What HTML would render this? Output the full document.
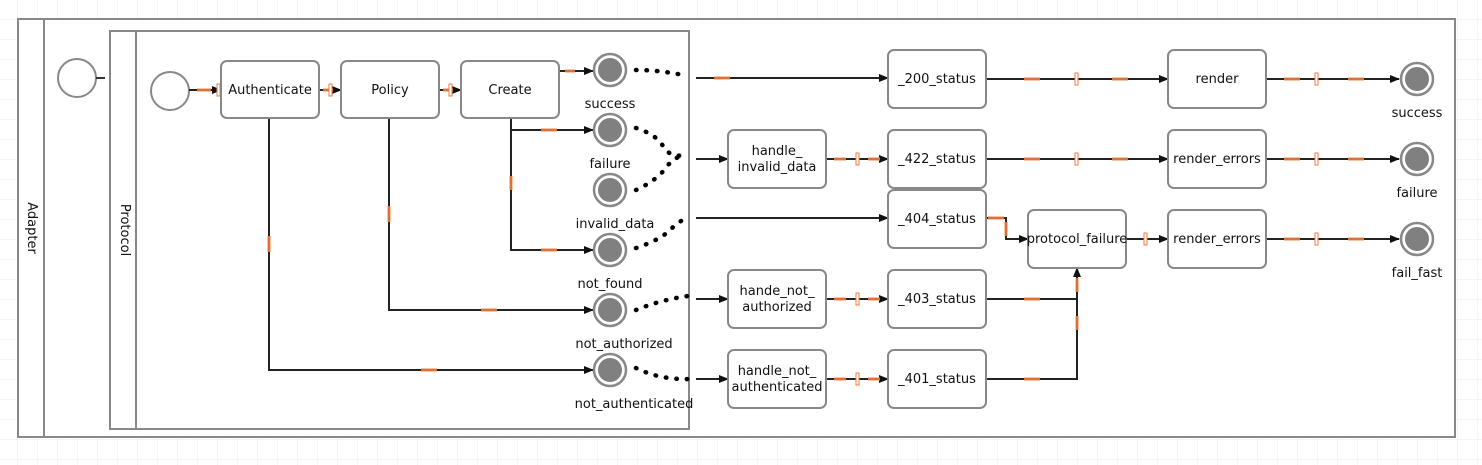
<!DOCTYPE html>
<html><head><meta charset="utf-8"><style>
html,body{margin:0;padding:0;background:#fff}
svg{display:block}
text{font-family:"DejaVu Sans","Liberation Sans",sans-serif;font-size:13px;fill:#111}
</style></head><body>
<svg width="1482" height="465" viewBox="0 0 1482 465" xmlns="http://www.w3.org/2000/svg">
<defs>
<pattern id="g" x="17" y="19" width="20" height="20" patternUnits="userSpaceOnUse">
<path d="M0 0H20M0 0V20" stroke="#ebebeb" stroke-width="1" fill="none"/>
</pattern>
<marker id="a" markerWidth="10" markerHeight="10" refX="9" refY="5" orient="auto" markerUnits="userSpaceOnUse">
<path d="M0 1L10 5L0 9z" fill="#111"/>
</marker>
</defs>
<rect width="1482" height="465" fill="url(#g)"/>
<rect x="18" y="19" width="1437" height="418" fill="#fff" stroke="#888" stroke-width="2"/>
<line x1="44" y1="19" x2="44" y2="437" stroke="#888" stroke-width="2"/>
<text transform="translate(28,228) rotate(90)" text-anchor="middle">Adapter</text>
<rect x="110" y="31" width="579" height="398" fill="#fff" stroke="#888" stroke-width="2"/>
<line x1="136" y1="31" x2="136" y2="429" stroke="#888" stroke-width="2"/>
<text transform="translate(121,230) rotate(90)" text-anchor="middle">Protocol</text>

<circle cx="77" cy="78" r="19" fill="#fff" stroke="#888" stroke-width="2"/>
<line x1="96" y1="78" x2="105" y2="78" stroke="#333" stroke-width="2"/>
<circle cx="170" cy="91" r="19" fill="#fff" stroke="#888" stroke-width="2"/>

<g fill="none" stroke="#222" stroke-width="2">
<line x1="189" y1="90" x2="221" y2="90" marker-end="url(#a)"/>
<line x1="319" y1="90" x2="341" y2="90" marker-end="url(#a)"/>
<line x1="439" y1="90" x2="461" y2="90" marker-end="url(#a)"/>
<polyline points="559,90 559,71 593,71" marker-end="url(#a)"/>
<polyline points="511,118 511,130 593,130" marker-end="url(#a)"/>
<polyline points="511,118 511,250 593,250" marker-end="url(#a)"/>
<polyline points="389,118 389,310 593,310" marker-end="url(#a)"/>
<polyline points="269,118 269,370 593,370" marker-end="url(#a)"/>
<line x1="696" y1="78" x2="888" y2="78" marker-end="url(#a)"/>
<line x1="696" y1="159" x2="728" y2="159" marker-end="url(#a)"/>
<line x1="696" y1="218" x2="888" y2="218" marker-end="url(#a)"/>
<line x1="696" y1="299" x2="728" y2="299" marker-end="url(#a)"/>
<line x1="696" y1="379" x2="728" y2="379" marker-end="url(#a)"/>
<line x1="826" y1="159" x2="888" y2="159" marker-end="url(#a)"/>
<line x1="826" y1="299" x2="888" y2="299" marker-end="url(#a)"/>
<line x1="826" y1="379" x2="888" y2="379" marker-end="url(#a)"/>
<line x1="986" y1="79" x2="1168" y2="79" marker-end="url(#a)"/>
<line x1="986" y1="159" x2="1168" y2="159" marker-end="url(#a)"/>
<polyline points="986,218 1006,218 1006,239 1028,239" marker-end="url(#a)"/>
<polyline points="986,299 1077,299"/>
<polyline points="986,379 1077,379 1077,268" marker-end="url(#a)"/>
<line x1="1126" y1="239" x2="1168" y2="239" marker-end="url(#a)"/>
<line x1="1266" y1="79" x2="1399" y2="79" marker-end="url(#a)"/>
<line x1="1266" y1="159" x2="1399" y2="159" marker-end="url(#a)"/>
<line x1="1266" y1="239" x2="1399" y2="239" marker-end="url(#a)"/>
</g>

<g stroke="#f07a3a" stroke-width="3" fill="none" opacity="0.9">
<path d="M197 90h14M323 90h10M443 90h10M565 71h10M541 130h16M541 250h16M481 310h16M421 370h16"/>
<path d="M269 236v16M389 206v16M511 176v14"/>
<path d="M714 78h16M834 159h12M868 159h12M834 299h12M868 299h12M834 379h12M868 379h12"/>
<path d="M1024 79h16M1112 79h16M1024 159h16M1112 159h16M1024 299h16M1024 379h16M1077 278v14M1077 316v14"/>
<path d="M1284 79h16M1348 79h16M1284 159h16M1348 159h16M1284 239h16M1348 239h16M988 218h16M1006 222v14"/>
</g>
<g stroke="#f07a3a" stroke-width="1" fill="#fff">
<rect x="217" y="84" width="3" height="12"/><rect x="329" y="84" width="3" height="12"/><rect x="449" y="84" width="3" height="12"/>
<rect x="856" y="153" width="3" height="12"/><rect x="856" y="293" width="3" height="12"/><rect x="856" y="373" width="3" height="12"/>
<rect x="1075" y="73" width="3" height="12"/><rect x="1075" y="153" width="3" height="12"/><rect x="1144" y="233" width="3" height="12"/>
<rect x="1315" y="73" width="3" height="12"/><rect x="1315" y="153" width="3" height="12"/><rect x="1315" y="233" width="3" height="12"/>
</g>

<g stroke="#000" stroke-width="4.5" stroke-dasharray="0.5 10" stroke-linecap="round" fill="none">
<path d="M636 70 Q660 70 688 76"/>
<path d="M636 128 Q658 135 664 148 Q672 158 684 155"/>
<path d="M636 190 Q658 180 668 165 Q678 155 684 156"/>
<path d="M636 248 Q660 240 670 230 Q680 220 688 218"/>
<path d="M636 310 Q660 300 688 296"/>
<path d="M636 368 Q660 380 690 379"/>
</g>

<g fill="#fff" stroke="#888" stroke-width="2">
<rect x="221" y="61" width="98" height="57" rx="6"/>
<rect x="341" y="61" width="98" height="57" rx="6"/>
<rect x="461" y="61" width="98" height="57" rx="6"/>
<rect x="728" y="130" width="98" height="58" rx="6"/>
<rect x="728" y="270" width="98" height="58" rx="6"/>
<rect x="728" y="350" width="98" height="58" rx="6"/>
<rect x="888" y="50" width="98" height="58" rx="6"/>
<rect x="888" y="130" width="98" height="58" rx="6"/>
<rect x="888" y="190" width="98" height="58" rx="6"/>
<rect x="888" y="270" width="98" height="58" rx="6"/>
<rect x="888" y="350" width="98" height="58" rx="6"/>
<rect x="1028" y="210" width="98" height="58" rx="6"/>
<rect x="1168" y="50" width="98" height="58" rx="6"/>
<rect x="1168" y="130" width="98" height="58" rx="6"/>
<rect x="1168" y="210" width="98" height="58" rx="6"/>
</g>
<g text-anchor="middle">
<text x="270" y="94">Authenticate</text>
<text x="390" y="94">Policy</text>
<text x="510" y="94">Create</text>
<text x="777" y="155">handle_</text><text x="777" y="171">invalid_data</text>
<text x="777" y="295">hande_not_</text><text x="777" y="311">authorized</text>
<text x="777" y="375">handle_not_</text><text x="777" y="391">authenticated</text>
<text x="937" y="83">_200_status</text>
<text x="937" y="163">_422_status</text>
<text x="937" y="223">_404_status</text>
<text x="937" y="303">_403_status</text>
<text x="937" y="383">_401_status</text>
<text x="1077" y="243">protocol_failure</text>
<text x="1217" y="83">render</text>
<text x="1217" y="163">render_errors</text>
<text x="1217" y="243">render_errors</text>
</g>

<g stroke="#888" stroke-width="2.5" fill="#fff">
<circle cx="610" cy="70" r="16"/><circle cx="610" cy="130" r="16"/><circle cx="610" cy="190" r="16"/>
<circle cx="610" cy="250" r="16"/><circle cx="610" cy="310" r="16"/><circle cx="610" cy="370" r="16"/>
<circle cx="1417" cy="79" r="16"/><circle cx="1417" cy="159" r="16"/><circle cx="1417" cy="239" r="16"/>
</g>
<g fill="#808080">
<circle cx="610" cy="70" r="12"/><circle cx="610" cy="130" r="12"/><circle cx="610" cy="190" r="12"/>
<circle cx="610" cy="250" r="12"/><circle cx="610" cy="310" r="12"/><circle cx="610" cy="370" r="12"/>
<circle cx="1417" cy="79" r="12"/><circle cx="1417" cy="159" r="12"/><circle cx="1417" cy="239" r="12"/>
</g>
<g text-anchor="middle">
<text x="610" y="108">success</text>
<text x="610" y="168">failure</text>
<text x="615" y="228">invalid_data</text>
<text x="610" y="288">not_found</text>
<text x="624" y="348">not_authorized</text>
<text x="634" y="408">not_authenticated</text>
<text x="1417" y="117">success</text>
<text x="1417" y="197">failure</text>
<text x="1417" y="277">fail_fast</text>
</g>
</svg>
</body></html>
